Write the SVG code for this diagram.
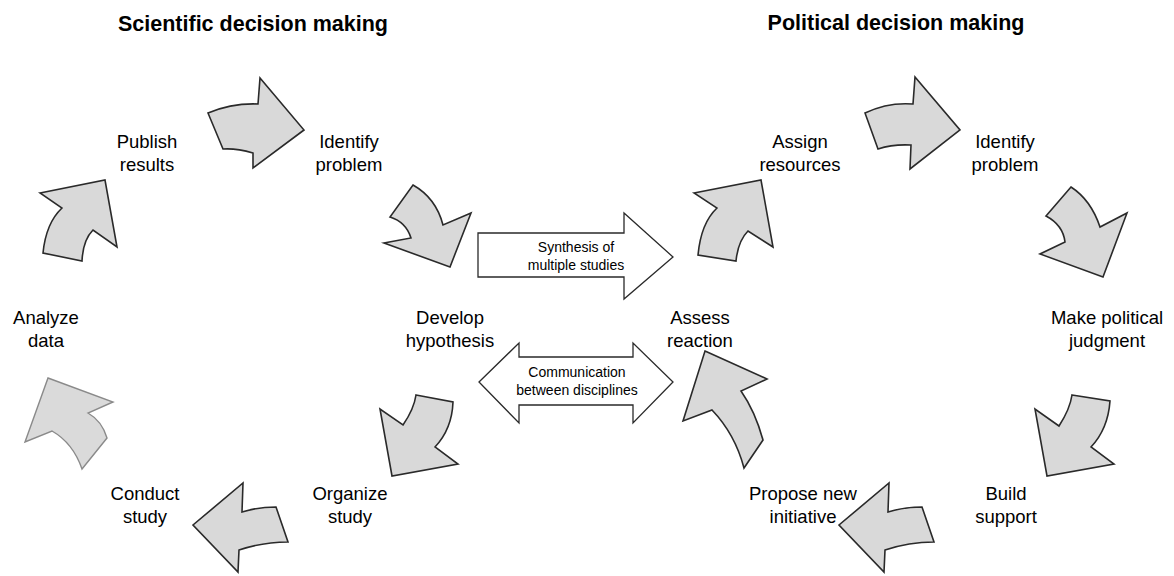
<svg xmlns="http://www.w3.org/2000/svg" width="1174" height="576" viewBox="0 0 1174 576">
<style>
.bg{fill:#ffffff}
.title{font-family:"Liberation Sans",Arial,sans-serif;font-size:21.5px;font-weight:bold;fill:#000;text-anchor:middle}
.lbl{font-family:"Liberation Sans",Arial,sans-serif;font-size:18.5px;fill:#000;text-anchor:middle}
.small{font-family:"Liberation Sans",Arial,sans-serif;font-size:14px;fill:#000;text-anchor:middle}
.cv{fill:#d9d9d9;stroke:#2a2a2a;stroke-width:1.6;stroke-linejoin:miter}
.cvl{fill:#dadada;stroke:#8a8a8a;stroke-width:1.4;stroke-linejoin:miter}
.blk{fill:#ffffff;stroke:#2a2a2a;stroke-width:1.3;stroke-linejoin:miter}
</style>
<rect class="bg" x="0" y="0" width="1174" height="576"/>
<g id="titles">
<text class="title" x="253" y="31">Scientific decision making</text>
<text class="title" x="896" y="30">Political decision making</text>
</g>
<g id="sci-publish"><text class="lbl" x="147" y="148">Publish</text><text class="lbl" x="147" y="171">results</text></g>
<g id="sci-identify"><text class="lbl" x="349" y="148">Identify</text><text class="lbl" x="349" y="171">problem</text></g>
<g id="sci-analyze"><text class="lbl" x="46" y="324">Analyze</text><text class="lbl" x="46" y="347">data</text></g>
<g id="sci-develop"><text class="lbl" x="450" y="324">Develop</text><text class="lbl" x="450" y="347">hypothesis</text></g>
<g id="sci-conduct"><text class="lbl" x="145" y="500">Conduct</text><text class="lbl" x="145" y="523">study</text></g>
<g id="sci-organize"><text class="lbl" x="350" y="500">Organize</text><text class="lbl" x="350" y="523">study</text></g>
<g id="pol-assign"><text class="lbl" x="800" y="148">Assign</text><text class="lbl" x="800" y="171">resources</text></g>
<g id="pol-identify"><text class="lbl" x="1005" y="148">Identify</text><text class="lbl" x="1005" y="171">problem</text></g>
<g id="pol-judgment"><text class="lbl" x="1107" y="324">Make political</text><text class="lbl" x="1107" y="347">judgment</text></g>
<g id="pol-assess"><text class="lbl" x="700" y="324">Assess</text><text class="lbl" x="700" y="347">reaction</text></g>
<g id="pol-build"><text class="lbl" x="1006" y="500">Build</text><text class="lbl" x="1006" y="523">support</text></g>
<g id="pol-propose"><text class="lbl" x="803" y="500">Propose new</text><text class="lbl" x="803" y="523">initiative</text></g>
<g id="connectors">
<path class="cv" d="M208,113 Q232,103 258,104 L260,78 L304,130 L253,168 L253,153 Q236,148 223,149 Z"/>
<path class="cv" d="M413,185 Q436,198 443,225 L471,213 L450,267 L384,243 L411,238 Q406,222 390,217 Z"/>
<path class="cv" d="M40,193 L105,180 L117,247 L93,230 Q83,240 82,261 L43,253 Q46,223 62,208 Z"/>
<path class="cvl" d="M48,378 L113,402 L88,413 Q102,421 107,438 L82,469 Q73,443 52,431 L25,442 Z"/>
<path class="cv" d="M243,483 L242,512 Q258,507 276,507 L288,542 Q263,542 239,550 L238,572 L193,525 Z"/>
<path class="cv" d="M416,395 L453,402 Q452,429 435,447 L458,464 L392,476 L380,409 L403,425 Q414,409 416,395 Z"/>
<path class="cv" d="M694,193 L761,180 L773,247 L748,231 Q738,241 736,261 L698,255 Q701,223 717,208 Z"/>
<path class="cv" d="M865,113 Q888,102 913,104 L915,77 L960,130 L910,169 L911,145 Q893,144 878,149 Z"/>
<path class="cv" d="M1071,187 Q1091,200 1100,227 L1127,213 L1103,277 L1040,254 L1065,242 Q1063,225 1046,216 Z"/>
<path class="cv" d="M1072,395 L1110,401 Q1108,429 1091,447 L1114,464 L1047,476 L1035,409 L1059,426 Q1070,409 1072,395 Z"/>
<path class="cv" d="M889,483 L888,512 Q904,507 922,507 L934,542 Q909,542 885,550 L884,572 L839,525 Z"/>
<path class="cv" d="M705,351 L767,379 L741,391 Q755,411 763,440 L744,468 Q735,434 712,410 L683,421 Z"/>
<path class="blk" d="M478,233 L624,233 L624,213 L673,257 L624,299 L624,277 L478,277 Z"/>
<path class="blk" d="M479,382 L519,343 L519,357 L633,357 L633,343 L673,382 L633,423 L633,405 L519,405 L519,423 Z"/>
<text class="small" x="576" y="252">Synthesis of</text>
<text class="small" x="576" y="270">multiple studies</text>
<text class="small" x="577" y="377">Communication</text>
<text class="small" x="577" y="395">between disciplines</text>
</g>
</svg>
